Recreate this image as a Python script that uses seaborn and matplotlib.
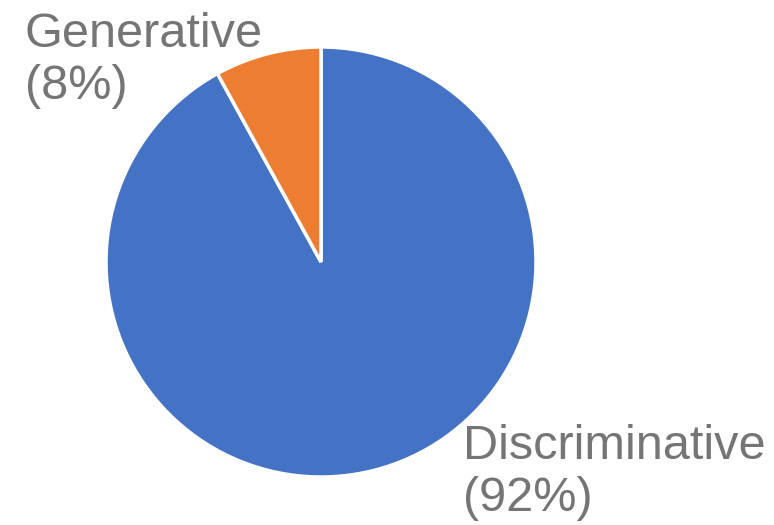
import matplotlib
matplotlib.use("Agg")
import matplotlib.pyplot as plt
import seaborn as sns

# data
labels = ["Discriminative", "Generative"]
shares = [92, 8]
colors = ["#4472C4", "#ED7D31"]

sns.set_theme(style="white")
plt.rcParams['font.family'] = ['Liberation Sans', 'DejaVu Sans']

W, H = 774, 525
fig = plt.figure(figsize=(W / 100, H / 100), dpi=100)

# pie centre (321, 262) px, radius 215 px
cx, cy, r = 321, 262, 215
ax = fig.add_axes([(cx - r) / W, (H - cy - r) / H, 2 * r / W, 2 * r / H])
ax.pie(shares, colors=colors, startangle=90, counterclock=False,
       wedgeprops=dict(edgecolor="white", linewidth=2.5))
ax.set_xlim(-1, 1)
ax.set_ylim(-1, 1)
ax.set_aspect("equal")
ax.axis("off")

txt_color = "#757575"
label_pos = {"Generative": (25, 12), "Discriminative": (463, 424)}
for lab, val in zip(labels, shares):
    x, y = label_pos[lab]
    fig.text(x / W, 1 - y / H, f"{lab}\n({val}%)", ha="left", va="top",
             fontsize=35, color=txt_color, linespacing=1.2)

fig.savefig("out.png", dpi=100)
